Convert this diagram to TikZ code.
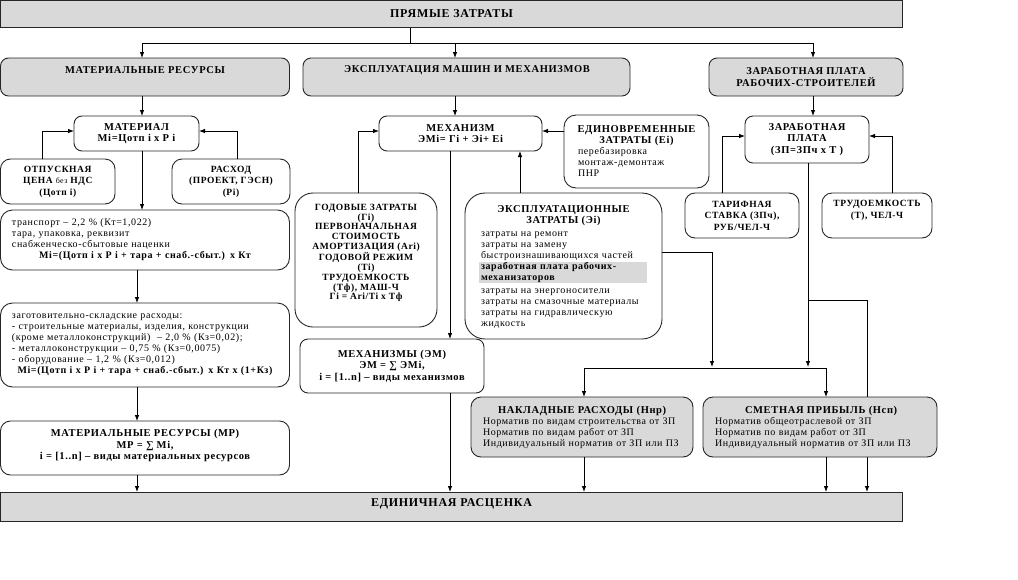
\documentclass[tikz,border=0pt]{standalone}
\usepackage{fontspec}
\setmainfont{Liberation Serif}[LetterSpace=6]
\usetikzlibrary{arrows.meta}
\definecolor{gfill}{HTML}{D9D9D9}
\definecolor{edge}{HTML}{262626}
\newcommand\tbf{\fontsize{10.5}{11}\selectfont\bfseries}
\tikzset{
 box/.style={draw=edge, line width=0.9pt, inner sep=0pt, outer sep=0pt, rounded corners=8pt, fill=white},
 gbox/.style={box, fill=gfill},
 sqbox/.style={draw=edge, line width=0.9pt, fill=gfill, inner sep=0pt, outer sep=0pt},
 arr/.style={-{Latex[length=6pt,width=4.5pt]}, line width=0.8pt},
 ln/.style={line width=0.8pt},
 tt/.style={font=\fontsize{10.5}{11.5}\selectfont\bfseries, align=center},
 ts/.style={font=\fontsize{9.5}{11.5}\selectfont\bfseries, align=center},
 tb/.style={font=\fontsize{12}{13}\selectfont\bfseries, align=center},
 bt/.style={font=\fontsize{10}{11}\selectfont, align=left},
}
\begin{document}
\begin{tikzpicture}[x=1pt,y=-1pt]
\useasboundingbox (0,0) rectangle (1018,579);
% top
\node[sqbox, tb, minimum width=902pt, minimum height=27pt] (pz) at (451.5,14) {ПРЯМЫЕ ЗАТРАТЫ};
% row 2
\node[gbox, minimum width=289pt, minimum height=38pt] (mr) at (145,77) {};
\node[tt] (mrT) at (145,70) {МАТЕРИАЛЬНЫЕ РЕСУРСЫ};
\node[gbox, minimum width=327pt, minimum height=38pt] (em) at (466.5,77) {};
\node[tt] (emT) at (467,70) {ЭКСПЛУАТАЦИЯ МАШИН И МЕХАНИЗМОВ};
\node[gbox, tt, minimum width=194pt, minimum height=38pt] (zr) at (806,77) {ЗАРАБОТНАЯ ПЛАТА\\РАБОЧИХ-СТРОИТЕЛЕЙ};
\coordinate (j1) at (410,43);
\draw[ln] (j1 |- pz.south) -- (j1);
\draw[arr] (j1) -| ([xshift=-3pt]mr.north);
\draw[arr] (j1) -| ([xshift=-11.5pt]em.north);
\draw[arr] (j1) -| ([xshift=7pt]zr.north);
% bottom box
\node[sqbox, minimum width=902pt, minimum height=29pt] (ed) at (451.5,506.5) {};
\node[tb] (edT) at (451.5,504) {ЕДИНИЧНАЯ РАСЦЕНКА};
% left column
\coordinate (cA) at (142,0);
\coordinate (cB) at (137,0);
\node[box, tt, minimum width=125pt, minimum height=35pt] (mat) at (136.5,133.5) {МАТЕРИАЛ\\Мi=Цотп i x Р i};
\node[box, ts, rounded corners=10pt, minimum width=114.5pt, minimum height=45pt] (otp) at (57.75,181.5) {ОТПУСКНАЯ\\ЦЕНА {\mdseries\fontsize{8}{11}\selectfont без} НДС\\(Цотп i)};
\node[box, ts, rounded corners=10pt, minimum width=118pt, minimum height=45pt] (rash) at (231,181.5) {РАСХОД\\(ПРОЕКТ, ГЭСН)\\(Рi)};
\draw[arr] (mr.south -| cA) -- (mat.north -| cA);
\draw[arr] ([xshift=-15.75pt]otp.north) |- ([yshift=2.5pt]mat.west);
\draw[arr] ([xshift=6pt]rash.north) |- ([yshift=2.5pt]mat.east);
\node[box, bt, rounded corners=12pt, minimum width=289pt, minimum height=60pt, text width=266pt] (tr) at (145,240) {транспорт – 2,2 \% (Кт=1,022)\\тара, упаковка, реквизит\\снабженческо-сбытовые наценки\\\makebox[266pt]{\bfseries Мi=(Цотп i x Р i + тара + снаб.-сбыт.) x Кт}};
\draw[arr] (mat.south -| cA) -- (tr.north -| cA);
\node[box, bt, rounded corners=12pt, minimum width=289pt, minimum height=84pt, text width=266pt] (zag) at (145,345) {заготовительно-складские расходы:\\\mbox{- строительные материалы, изделия, конструкции}\\\mbox{(кроме металлоконструкций)\ \ – 2,0 \% (Кз=0,02);}\\- металлоконструкции – 0,75 \% (Кз=0,0075)\\- оборудование – 1,2 \% (Кз=0,012)\\\makebox[266pt]{\bfseries Мi=(Цотп i x Р i + тара + снаб.-сбыт.) x Кт x (1+Кз)}};
\draw[arr] (tr.south -| cB) -- (zag.north -| cB);
\node[box, rounded corners=10pt, minimum width=289pt, minimum height=54pt] (mrr) at (145,448) {};
\node[tt] (mrrT) at (145,445.5) {МАТЕРИАЛЬНЫЕ РЕСУРСЫ (МР)\\МР = ∑ Мi,\\i = [1..n] – виды материальных ресурсов};
\draw[arr] (zag.south -| cB) -- (mrr.north -| cB);
\draw[arr] (mrr.south -| cB) -- (ed.north -| cB);
% middle column
\coordinate (cM) at (450,0);
\node[box, tt, minimum width=163pt, minimum height=35pt] (mech) at (460.5,133.5) {МЕХАНИЗМ\\ЭМi= Гi + Эi+ Еi};
\draw[arr] ([xshift=-11.5pt]em.south) -- ([xshift=-11.5pt]em.south |- mech.north);
\node[box, rounded corners=18pt, minimum width=142pt, minimum height=134pt] (god) at (366,260) {};
\node[font=\fontsize{9.5}{9.8}\selectfont\bfseries, align=center] (godT) at (366,253) {ГОДОВЫЕ ЗАТРАТЫ\\(Гi)\\ПЕРВОНАЧАЛЬНАЯ\\СТОИМОСТЬ\\АМОРТИЗАЦИЯ (Ari)\\ГОДОВОЙ РЕЖИМ\\(Ti)\\ТРУДОЕМКОСТЬ\\(Тф), МАШ-Ч\\Гi = Ari/Ti x Тф};
\draw[arr] ([xshift=-8pt]god.north) |- ([yshift=2.5pt]mech.west);
\node[box, tt, minimum width=184pt, minimum height=54pt] (emm) at (392,366) {МЕХАНИЗМЫ (ЭМ)\\ЭМ = ∑ ЭМi,\\i = [1..n] – виды механизмов};
\draw[arr] (mech.south -| cM) -- (emm.north -| cM);
\draw[arr] (emm.south -| cM) -- (ed.north -| cM);
\node[box, rounded corners=20pt, minimum width=197pt, minimum height=146pt] (eks) at (563.5,266) {};
\fill[gfill] (479,262) rectangle (647,283);
\node[bt, inner sep=0pt, text width=165pt] (eksT) at (563.5,267) {\makebox[165pt]{\tbf ЭКСПЛУАТАЦИОННЫЕ}\\\makebox[165pt]{\tbf ЗАТРАТЫ (Эi)}\\[2pt]затраты на ремонт\\затраты на замену\\\mbox{быстроизнашивающихся частей}\\{\bfseries заработная плата рабочих-}\\{\bfseries механизаторов}\\[2pt]затраты на энергоносители\\\mbox{затраты на смазочные материалы}\\затраты на гидравлическую\\жидкость};
\draw[arr] ([xshift=-43.5pt]eks.north) -- ([xshift=-43.5pt]eks.north |- mech.south);
\node[box, bt, rounded corners=12pt, minimum width=145pt, minimum height=73pt, text width=117pt] (edin) at (636.5,151.5) {\makebox[117pt]{\tbf ЕДИНОВРЕМЕННЫЕ}\\\makebox[117pt]{\tbf ЗАТРАТЫ (Еi)}\\перебазировка\\монтаж-демонтаж\\ПНР};
\draw[arr] ([yshift=20.5pt]edin.west) -- ([yshift=2.5pt]mech.east);
% right column
\node[box, tt, minimum width=124pt, minimum height=47pt] (zp) at (807,139.5) {ЗАРАБОТНАЯ\\ПЛАТА\\(ЗП=ЗПч x T )};
\draw[arr] ([xshift=7pt]zr.south) -- ([xshift=7pt]zr.south |- zp.north);
\node[box, ts, rounded corners=10pt, minimum width=114pt, minimum height=45pt] (tar) at (742,215.5) {ТАРИФНАЯ\\СТАВКА (ЗПч),\\РУБ/ЧЕЛ-Ч};
\node[box, rounded corners=10pt, minimum width=110pt, minimum height=45pt] (tru) at (877,215.5) {};
\node[ts] (truT) at (877,210.5) {ТРУДОЕМКОСТЬ\\(Т), ЧЕЛ-Ч};
\draw[arr] ([xshift=-20pt]tar.north) |- ([yshift=3.5pt]zp.west);
\draw[arr] ([xshift=15pt]tru.north) |- ([yshift=3.5pt]zp.east);
% distribution
\coordinate (cZ) at (808,0);
\coordinate (cR) at (867,0);
\coordinate (jE) at (712,367);
\coordinate (jZ) at (808,367);
\coordinate (br) at (808,300);
\coordinate (hl) at (584,368);
\coordinate (hr) at (826,368);
\draw[arr] ([yshift=14pt]eks.east) -| (jE);
\draw[arr] (zp.south -| cZ) -- (jZ);
\draw[arr] (br) -| (ed.north -| cR);
\draw[ln] (hl) -- (hr);
\node[gbox, bt, rounded corners=10pt, minimum width=222pt, minimum height=60pt, text width=198pt] (nak) at (582,427) {\mbox{\hspace*{15pt}\tbf НАКЛАДНЫЕ РАСХОДЫ (Ннр)}\\\mbox{Норматив по видам строительства от ЗП}\\Норматив по видам работ от ЗП\\\mbox{Индивидуальный норматив от ЗП или ПЗ}};
\node[gbox, bt, rounded corners=10pt, minimum width=234pt, minimum height=60pt, text width=210pt] (smp) at (820,427) {\mbox{\hspace*{30pt}\tbf СМЕТНАЯ ПРИБЫЛЬ (Нсп)}\\Норматив общеотраслевой от ЗП\\Норматив по видам работ от ЗП\\\mbox{Индивидуальный норматив от ЗП или ПЗ}};
\draw[arr] (hl) -- (hl |- nak.north);
\draw[arr] (hr) -- (hr |- smp.north);
\draw[arr] (nak.south -| hl) -- (ed.north -| hl);
\draw[arr] (smp.south -| hr) -- (ed.north -| hr);
\end{tikzpicture}
\end{document}
